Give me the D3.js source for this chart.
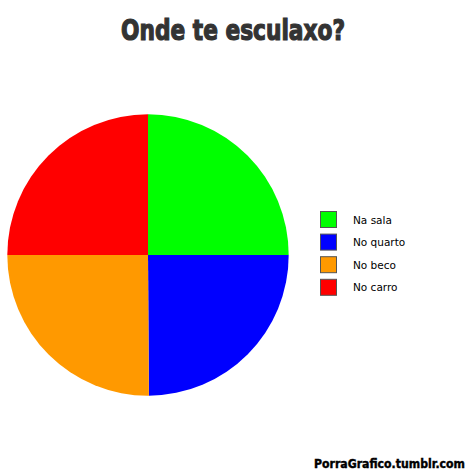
<!DOCTYPE html>
<html>
<head>
<meta charset="utf-8">
<script src="https://cdn.jsdelivr.net/npm/d3@7"></script>
<style>
  body { margin: 0; background: #fff; }
</style>
</head>
<body>
<div id="chart"></div>
<script>
var categories = ["Na sala", "No quarto", "No beco", "No carro"]
var values = [25, 24.9, 25.1, 25]
var colors = ["#00ff00", "#0000ff", "#ff9900", "#ff0000"]

var svg = d3.select("#chart")
  .append("svg")
  .attr("width", 469)
  .attr("height", 474)

// titulo
svg.append("text")
  .attr("x", 233)
  .attr("y", 40)
  .attr("text-anchor", "middle")
  .attr("textLength", 224)
  .attr("lengthAdjust", "spacingAndGlyphs")
  .text("Onde te esculaxo?")
  .style("font-size", "29px")
  .attr("font-family", "'DejaVu Sans Condensed', 'DejaVu Sans', sans-serif")
  .attr("font-weight", "bold")
  .attr("fill", "#333")
  .style("stroke", "#333")
  .style("stroke-width", 1.2)

var pie = d3.pie().sort(null)
var arc = d3.arc().innerRadius(0).outerRadius(140.7)

var g = svg.append("g")
  .attr("transform", "translate(148,255)")

g.selectAll("path")
  .data(pie(values))
  .enter()
  .append("path")
  .attr("d", arc)
  .style("fill", (d, i) => colors[i])

// legenda
var legend = svg.append("g")
  .attr("transform", "translate(320,211)")

categories.forEach((c, i) => {
  legend.append("rect")
    .attr("x", 0.5)
    .attr("y", i * 22.6 + 0.5)
    .attr("width", 16)
    .attr("height", 16)
    .style("fill", colors[i])
    .style("stroke", "#555")
    .style("stroke-width", 1)

  legend.append("text")
    .attr("x", 33)
    .attr("y", i * 22.6 + 12.5)
    .text(c)
    .style("font-size", "10.5px")
    .attr("font-family", "'DejaVu Sans', sans-serif")
    .attr("fill", "#000")
})

// rodape
svg.append("text")
  .attr("x", 465)
  .attr("y", 468)
  .attr("text-anchor", "end")
  .attr("textLength", 151)
  .attr("lengthAdjust", "spacingAndGlyphs")
  .text("PorraGrafico.tumblr.com")
  .style("font-size", "12.5px")
  .attr("font-family", "'DejaVu Sans Condensed', 'DejaVu Sans', sans-serif")
  .attr("font-weight", "bold")
  .attr("fill", "#000")
  .style("stroke", "#000")
  .style("stroke-width", 0.4)
</script>
</body>
</html>
